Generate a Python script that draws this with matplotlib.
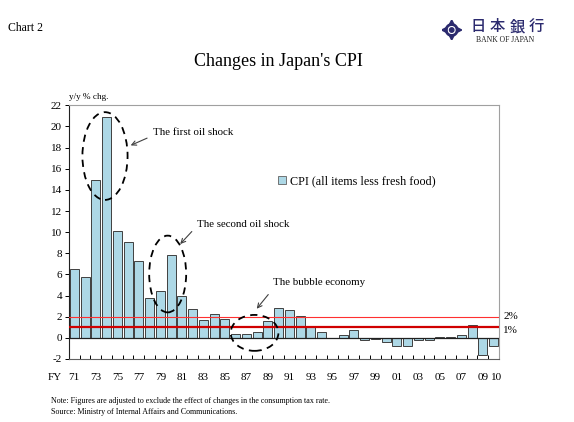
import matplotlib
matplotlib.use("Agg")
import matplotlib.pyplot as plt
from matplotlib.patches import Ellipse, Circle, Polygon, Patch
import numpy as np

plt.rcParams["font.family"] = ["Liberation Serif", "DejaVu Serif"]
plt.rcParams["axes.unicode_minus"] = False

years = list(range(1971, 2011))
cpi = [6.5, 5.8, 14.9, 20.9, 10.1, 9.1, 7.3, 3.8, 4.4, 7.8,
       4.0, 2.7, 1.7, 2.3, 1.8, 0.4, 0.4, 0.6, 1.6, 2.8,
       2.6, 2.1, 1.1, 0.6, 0.0, 0.3, 0.7, -0.2, -0.15, -0.4,
       -0.8, -0.8, -0.2, -0.2, 0.1, 0.1, 0.3, 1.2, -1.6, -0.8]
tick_years = list(range(1971, 2010, 2)) + [2010]
tick_labels = ["%02d" % (y % 100) for y in tick_years]
target_levels = [2, 1]
target_labels = ["2%", "1%"]

fig = plt.figure(figsize=(5.74, 4.22), dpi=100)
ax = fig.add_axes([0.1202, 0.1493, 0.7491, 0.6012])

bar_blue = "#add8e6"
ax.bar(years, cpi, width=0.85, color=bar_blue, edgecolor="#404040", linewidth=0.7, zorder=2)

ax.set_xlim(1970.5, 2010.5)
ax.set_ylim(-2, 22)
ax.set_yticks(np.arange(-2, 23, 2))
ax.tick_params(axis="y", labelsize=8, length=3, direction="out", width=0.7, pad=2)
# last label sits a little to the right in the original
tick_pos = [y + (0.3 if y == 2010 else 0) for y in tick_years]
ax.set_xticks(tick_pos)
ax.set_xticklabels(tick_labels)
ax.set_xticks(np.arange(1970.5, 2011, 1), minor=True)
ax.tick_params(axis="x", which="major", length=0, labelsize=8, pad=10)
ax.tick_params(axis="x", which="minor", length=3, direction="in", width=0.7)

for s in ["top", "right"]:
    ax.spines[s].set_color("#a0a0a0")
    ax.spines[s].set_linewidth(0.8)
ax.spines["bottom"].set_color("#606060")
ax.spines["left"].set_color("#202020")
ax.spines["left"].set_linewidth(0.8)

ax.axhline(0, color="#202020", lw=0.9, zorder=3)
ax.axhline(target_levels[0], color="#ff3030", lw=0.8, zorder=4)
ax.axhline(target_levels[1], color="#d00000", lw=1.6, zorder=4)
ax.text(1.01, target_levels[0], target_labels[0], transform=ax.get_yaxis_transform(),
        fontsize=8, va="center", ha="left")
ax.text(1.01, target_levels[1] - 0.3, target_labels[1], transform=ax.get_yaxis_transform(),
        fontsize=8, va="center", ha="left")

# dashed ellipses with labels
shocks = [
    ((1973.85, 17.2), 4.2, 8.3, "The first oil shock", (1978.3, 19.4), (1978.0, 19.0), (1976.0, 18.1)),
    ((1979.68, 6.04), 3.44, 7.26, "The second oil shock", (1982.4, 10.7), (1982.1, 10.25), (1980.67, 8.68)),
    ((1987.76, 0.47), 4.44, 3.4, "The bubble economy", (1989.5, 5.2), (1989.2, 4.3), (1987.8, 2.55)),
]
for center, w, h, label, txt_pos, tail, head in shocks:
    ax.add_patch(Ellipse(center, w, h, fill=False, ls=(0, (4, 3)), lw=1.3,
                         edgecolor="black", zorder=5))
    ax.text(txt_pos[0], txt_pos[1], label, fontsize=7.8, va="center", ha="left")
    ax.annotate("", xy=head, xytext=tail,
                arrowprops=dict(arrowstyle="->", color="#404040", lw=0.8, mutation_scale=8))

leg = ax.legend([Patch(facecolor=bar_blue, edgecolor="#606060", linewidth=0.6)],
                ["CPI (all items less fresh food)"], loc="center left",
                frameon=False, fontsize=8.7,
                handlelength=0.7, handleheight=0.7, handletextpad=0.3, borderaxespad=0,
                borderpad=0)
leg.set_bbox_to_anchor((278 / 574, 1 - 181 / 422), transform=fig.transFigure)

fig.text(69 / 574, 1 - 97 / 422, "y/y % chg.", fontsize=6.6, va="center", ha="left")
fig.text(48 / 574, 1 - 377 / 422, "FY", fontsize=8, va="center", ha="left")

fig.text(8 / 574, 1 - 28 / 422, "Chart 2", fontsize=8.5, va="center", ha="left")
fig.text(0.485, 1 - 62 / 422, "Changes in Japan's CPI", fontsize=13, va="center", ha="center")

fig.text(51 / 574, 1 - 401 / 422, "Note: Figures are adjusted to exclude the effect of changes in the consumption tax rate.",
         fontsize=5.8, va="center", ha="left")
fig.text(51 / 574, 1 - 412 / 422, "Source: Ministry of Internal Affairs and Communications.",
         fontsize=5.8, va="center", ha="left")

# Bank of Japan logo
navy = "#2b2a6e"
for i, ch in enumerate("日本銀行"):
    fig.text((478 + i * 19.5) / 574, 1 - 26.5 / 422, ch, fontsize=11, color=navy, va="center",
             ha="center", family=["Noto Sans CJK JP", "DejaVu Sans"], fontweight="medium")
fig.text(505 / 574, 1 - 39.5 / 422, "BANK OF JAPAN", fontsize=5.5, color="#202020", va="center", ha="center")
lax = fig.add_axes([(451.7 - 10) / 574, 1 - (30 + 10) / 422, 20 / 574, 20 / 422])
lax.set_xlim(-1, 1)
lax.set_ylim(-1, 1)
lax.axis("off")
lax.add_patch(Circle((0, 0), 0.55, fill=False, edgecolor=navy, lw=2))
lax.add_patch(Circle((0, 0), 0.22, color=navy))
for ang in [0, 90, 180, 270]:
    a = np.deg2rad(ang)
    tip = (np.cos(a) * 1.0, np.sin(a) * 1.0)
    b1 = (np.cos(a + 0.5) * 0.55, np.sin(a + 0.5) * 0.55)
    b2 = (np.cos(a - 0.5) * 0.55, np.sin(a - 0.5) * 0.55)
    lax.add_patch(Polygon([tip, b1, b2], color=navy))

fig.savefig("out.png", dpi=100)
